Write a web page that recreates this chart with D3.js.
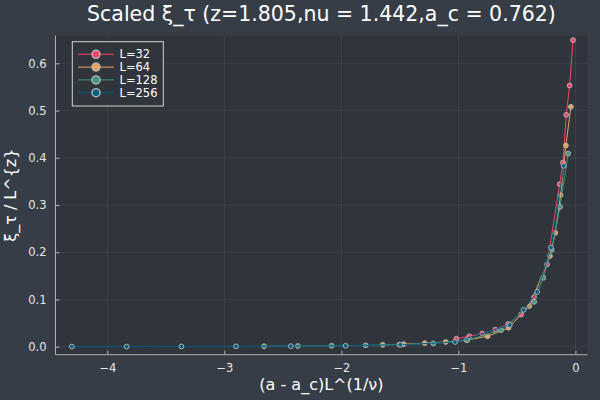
<!DOCTYPE html>
<html><head><meta charset="utf-8">
<script src="https://cdn.jsdelivr.net/npm/d3@7"></script>
<style>html,body{margin:0;padding:0;background:#363D46;}svg{display:block;font-family:"DejaVu Sans",sans-serif;}</style>
</head><body>
<svg id="c" width="600" height="400"></svg>
<script>
const titleText = "Scaled ξ_τ (z=1.805,nu = 1.442,a_c = 0.762)";
const xLabel = "(a - a_c)L^(1/ν)";
const yLabel = "ξ_τ / L^{z}";
const seriesNames = ["L=32", "L=64", "L=128", "L=256"];
const seriesColors = ["#FE4365", "#ECA25C", "#3F9778", "#005D7F"];
const xTicks = [-4, -3, -2, -1, 0];
const yTicks = [0.0, 0.1, 0.2, 0.3, 0.4, 0.5, 0.6];

const x32 = [-1.018, -0.907, -0.796, -0.686, -0.575, -0.465, -0.354, -0.243, -0.135, -0.107, -0.079, -0.050, -0.021];
const y32 = [0.017, 0.022, 0.028, 0.036, 0.048, 0.068, 0.105, 0.174, 0.344, 0.390, 0.491, 0.553, 0.649];
const x64 = [-1.646, -1.467, -1.288, -1.109, -0.930, -0.751, -0.572, -0.394, -0.218, -0.172, -0.127, -0.082, -0.039];
const y64 = [0.004, 0.0055, 0.0075, 0.010, 0.014, 0.022, 0.040, 0.086, 0.192, 0.241, 0.321, 0.426, 0.508];
const x128 = [-2.661, -2.372, -2.083, -1.793, -1.504, -1.215, -0.926, -0.636, -0.353, -0.275, -0.203, -0.132, -0.062];
const y128 = [0.001, 0.0015, 0.002, 0.003, 0.0045, 0.007, 0.0135, 0.035, 0.095, 0.146, 0.205, 0.296, 0.409];
const x256 = [-4.303, -3.835, -3.367, -2.900, -2.432, -1.964, -1.497, -1.029, -0.561, -0.444, -0.327, -0.210, -0.100];
const y256 = [0.0002, 0.0003, 0.0005, 0.0008, 0.0012, 0.002, 0.004, 0.010, 0.046, 0.078, 0.116, 0.210, 0.383];

const seriesX = [x32, x64, x128, x256];
const seriesY = [y32, y64, y128, y256];

const bg = "#363D46", bgIn = "#30343B", fg = "#ADB2B7";
const L = 55.5, R = 587.4, T = 35.6, B = 354.7;

const svg = d3.select("#c");
svg.append("rect").attr("width", 600).attr("height", 400).attr("fill", bg);
svg.append("rect").attr("x", L).attr("y", T).attr("width", R - L).attr("height", B - T).attr("fill", bgIn);

const x = d3.scaleLinear().domain([-4.443, 0.102]).range([L, R]);
const y = d3.scaleLinear().domain([-0.0169, 0.6587]).range([B, T]);

// grid
svg.append("g").selectAll("line").data(xTicks).join("line")
  .attr("x1", d => x(d)).attr("x2", d => x(d)).attr("y1", T).attr("y2", B)
  .attr("stroke", fg).attr("stroke-opacity", 0.1).attr("stroke-width", 1);
svg.append("g").selectAll("line").data(yTicks).join("line")
  .attr("y1", d => y(d)).attr("y2", d => y(d)).attr("x1", L).attr("x2", R)
  .attr("stroke", fg).attr("stroke-opacity", 0.1).attr("stroke-width", 1);

// axes
const fmtX = d => (d < 0 ? "\u2212" + Math.abs(d) : String(d));
const xAxis = d3.axisBottom(x).tickValues(xTicks).tickFormat(fmtX).tickSizeInner(-4).tickSizeOuter(0).tickPadding(9);
const yAxis = d3.axisLeft(y).tickValues(yTicks).tickFormat(d3.format(".1f")).tickSizeInner(-4).tickSizeOuter(0).tickPadding(9);
const gx = svg.append("g").attr("transform", `translate(0,${B})`).call(xAxis);
const gy = svg.append("g").attr("transform", `translate(${L},0)`).call(yAxis);
[gx, gy].forEach(g => {
  g.select(".domain").remove();
  g.selectAll(".tick line").attr("stroke", fg);
  g.selectAll(".tick text").attr("fill", "#e6e6e6").style("font-size", "11.5px").style("font-family", "DejaVu Sans");
});
svg.append("line").attr("x1", L).attr("x2", R).attr("y1", B).attr("y2", B).attr("stroke", fg).attr("stroke-width", 1);
svg.append("line").attr("x1", L).attr("x2", L).attr("y1", T).attr("y2", B).attr("stroke", fg).attr("stroke-width", 1);

// series
const line = d3.line().x(d => x(d[0])).y(d => y(d[1]));
seriesX.forEach((xs, i) => {
  const pts = xs.map((v, j) => [v, seriesY[i][j]]);
  const g = svg.append("g");
  g.append("path").datum(pts).attr("d", line).attr("fill", "none")
    .attr("stroke", seriesColors[i]).attr("stroke-width", 1);
  g.selectAll("circle").data(pts).join("circle")
    .attr("cx", d => x(d[0])).attr("cy", d => y(d[1])).attr("r", 2.4)
    .attr("fill", seriesColors[i]).attr("stroke", fg).attr("stroke-width", 1);
});

// title & labels
svg.append("text").attr("x", (L + R) / 2).attr("y", 21).attr("text-anchor", "middle")
  .attr("fill", "#ffffff").style("font-size", "20.5px").text(titleText);
svg.append("text").attr("x", (L + R) / 2).attr("y", 390).attr("text-anchor", "middle")
  .attr("fill", "#ffffff").style("font-size", "16px").text(xLabel);
svg.append("text").attr("transform", `translate(16,${(T + B) / 2}) rotate(-90)`).attr("text-anchor", "middle")
  .attr("fill", "#ffffff").style("font-size", "16px").text(yLabel);

// legend
const lg = svg.append("g");
lg.append("rect").attr("x", 72.3).attr("y", 41.7).attr("width", 91).attr("height", 64.3)
  .attr("fill", bgIn).attr("stroke", "#d0d3d6").attr("stroke-width", 1);
seriesNames.forEach((name, i) => {
  const cy = 54.3 + i * 12.8;
  lg.append("line").attr("x1", 78).attr("x2", 114).attr("y1", cy).attr("y2", cy)
    .attr("stroke", seriesColors[i]).attr("stroke-width", 1);
  lg.append("circle").attr("cx", 96).attr("cy", cy).attr("r", 4)
    .attr("fill", seriesColors[i]).attr("stroke", fg).attr("stroke-width", 1.5);
  lg.append("text").attr("x", 119.5).attr("y", cy + 4).attr("fill", "#ffffff")
    .style("font-size", "11.5px").text(name);
});
</script>
</body></html>
